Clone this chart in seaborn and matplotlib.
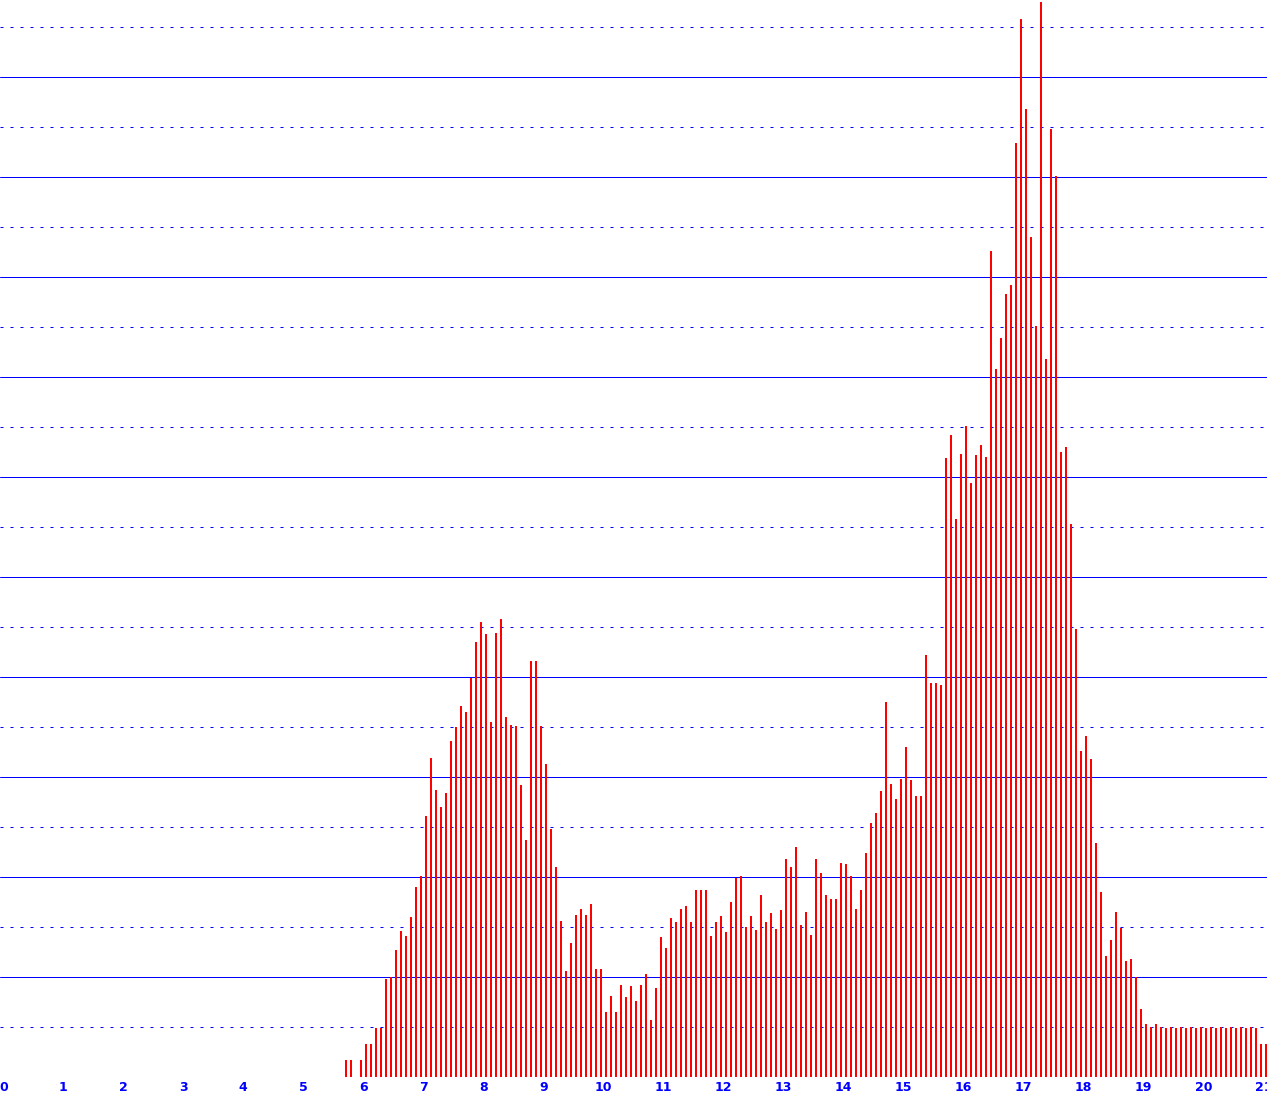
import matplotlib
matplotlib.use("Agg")
import matplotlib.pyplot as plt
import numpy as np
import pandas as pd
import seaborn as sns

# 5-minute bins (12 per hour); first non-empty bin is 68 -> 5:40
FIRST_BIN = 68
BINS_PER_HOUR = 12
counts = [
    17, 17, 0, 17, 33, 33, 49, 49, 98, 100, 127, 146, 141, 160, 190, 201,
    261, 319, 287, 270, 284, 336, 350, 371, 365, 399, 435, 455, 443, 355, 444, 458,
    360, 352, 351, 292, 237, 416, 416, 351, 313, 248, 210, 156, 106, 134, 162, 168,
    162, 173, 108, 108, 65, 81, 65, 92, 80, 91, 76, 92, 103, 57, 89, 140,
    129, 159, 155, 168, 171, 155, 187, 187, 187, 141, 155, 161, 145, 175, 199, 201,
    150, 161, 147, 182, 155, 164, 148, 167, 218, 210, 230, 152, 165, 142, 218, 204,
    182, 178, 178, 214, 213, 201, 168, 187, 224, 254, 264, 286, 375, 293, 278, 298,
    330, 297, 281, 281, 422, 394, 394, 392, 619, 642, 558, 623, 651, 594, 622, 632,
    620, 826, 708, 739, 783, 792, 934, 1058, 968, 840, 751, 1075, 718, 948, 901, 625,
    630, 553, 448, 326, 341, 318, 234, 185, 121, 137, 165, 149, 116, 118, 100, 68,
    53, 50, 53, 50, 49, 50, 49, 50, 49, 50, 49, 50, 49, 50, 49, 50,
    49, 50, 49, 50, 49, 50, 49, 33, 33,
]
hour_ticks = list(range(0, 22))

W, H, DPI = 1267, 1097, 100
BASE_PX = 1077          # baseline row of the plot
X0_PX = 3.3             # pixel column of hour 0
PX_PER_HOUR = 60.0

bins = FIRST_BIN + np.arange(len(counts))
df = pd.DataFrame({
    "hour": bins / BINS_PER_HOUR + 2.7 / PX_PER_HOUR,
    "count": counts,
})

sns.set_style("white")
fig = plt.figure(figsize=(W / DPI, H / DPI), dpi=DPI)
ax = fig.add_axes([0, (H - BASE_PX) / H, 1, BASE_PX / H])

# grid: solid every 100, dotted half-way
for y in range(0, 1100, 100):
    ax.axhline(y, color="#0000ff", lw=0.72, zorder=0)
for y in range(50, 1100, 100):
    ax.axhline(y, color="#0000ff", lw=0.72, linestyle=(0, (3, 7)), zorder=0)

sns.barplot(
    data=df, x="hour", y="count", native_scale=True, width=0.4,
    color="#ff0000", saturation=1, linewidth=0, errorbar=None, ax=ax,
)
for p in ax.patches:
    p.set_antialiased(False)

ax.set_xlim(-X0_PX / PX_PER_HOUR, (W - X0_PX) / PX_PER_HOUR)
ax.set_ylim(0, BASE_PX)
ax.set_xticks(hour_ticks)
ax.set_xticklabels([str(h) for h in hour_ticks])
ax.set_yticks([])
ax.tick_params(axis="x", length=0, pad=3, labelsize=9, labelcolor="#0000ff")
for lab in ax.get_xticklabels():
    lab.set_fontweight("bold")
ax.set_xlabel("")
ax.set_ylabel("")
for s in ax.spines.values():
    s.set_visible(False)

fig.savefig("out.png", dpi=DPI, facecolor="white")
